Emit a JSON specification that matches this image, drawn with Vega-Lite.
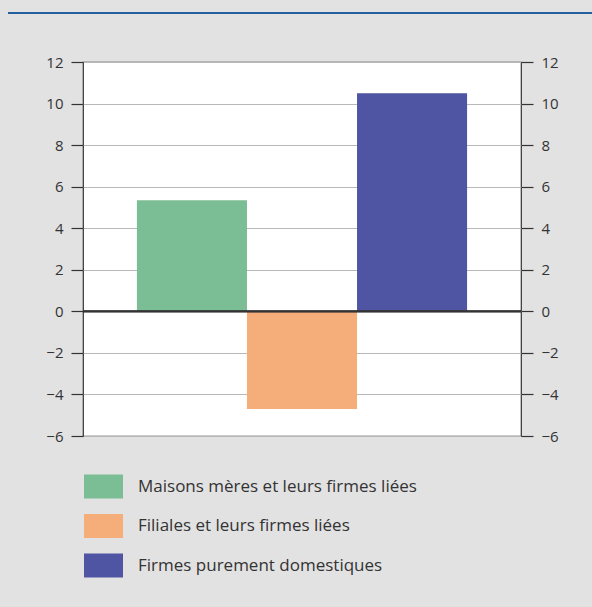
{
  "$schema": "https://vega.github.io/schema/vega-lite/v6.json",
  "background": "#e2e2e2",
  "padding": {"left": 8, "top": 12, "right": 0, "bottom": 40},
  "bounds": "flush",
  "center": true,
  "spacing": 48,
  "config": {
    "font": "Open Sans",
    "axis": {
      "domain": false,
      "tickColor": "#333333",
      "tickSize": 12,
      "tickWidth": 1.2,
      "labelFontSize": 15,
      "labelColor": "#333333",
      "labelPadding": 8,
      "gridColor": "#b8b8b8",
      "gridWidth": 1.2
    },
    "legend": {"padding": 0}
  },
  "datasets": {
    "bars": [
      {"cat": "Maisons mères et leurs firmes liées", "value": 5.35},
      {"cat": "Filiales et leurs firmes liées", "value": -4.7},
      {"cat": "Firmes purement domestiques", "value": 10.5}
    ]
  },
  "vconcat": [
    {
      "width": 588,
      "height": 2,
      "data": {"values": []},
      "mark": "rect",
      "encoding": {},
      "view": {"fill": "#2360a0", "stroke": null}
    },
    {
      "width": 438,
      "height": 374,
      "data": {"name": "bars"},
      "view": {"fill": "white", "stroke": "#333333", "strokeWidth": 1.2},
      "layer": [
        {
          "mark": {"type": "bar"},
          "encoding": {
            "x": {
              "field": "cat",
              "type": "nominal",
              "sort": null,
              "scale": {"paddingInner": 0, "paddingOuter": 0.49},
              "axis": null
            },
            "y": {
              "field": "value",
              "type": "quantitative",
              "scale": {"domain": [-6, 12], "nice": false, "zero": false},
              "axis": {
                "orient": "left",
                "title": null,
                "values": [-6, -4, -2, 0, 2, 4, 6, 8, 10, 12],
                "grid": true
              }
            },
            "color": {
              "field": "cat",
              "type": "nominal",
              "scale": {
                "domain": ["Maisons mères et leurs firmes liées", "Filiales et leurs firmes liées", "Firmes purement domestiques"],
                "range": ["#7bbd94", "#f5ae7a", "#4f55a2"]
              },
              "legend": {
                "title": null,
                "orient": "none",
                "legendX": 76,
                "legendY": 455,
                "symbolType": "M-1,-0.615H1V0.615H-1Z",
                "symbolSize": 1521,
                "symbolStrokeWidth": 0,
                "symbolOpacity": 1,
                "labelOffset": 15,
                "labelFontSize": 17,
                "labelColor": "#333333",
                "labelLimit": 400,
                "rowPadding": 7.5
              }
            }
          }
        },
        {
          "mark": {"type": "rule", "color": "#333333", "strokeWidth": 1.6},
          "encoding": {
            "y": {
              "datum": 0,
              "type": "quantitative",
              "axis": {
                "orient": "right",
                "title": null,
                "values": [-6, -4, -2, 0, 2, 4, 6, 8, 10, 12],
                "grid": false
              }
            }
          }
        }
      ],
      "resolve": {"axis": {"y": "independent"}}
    }
  ]
}
